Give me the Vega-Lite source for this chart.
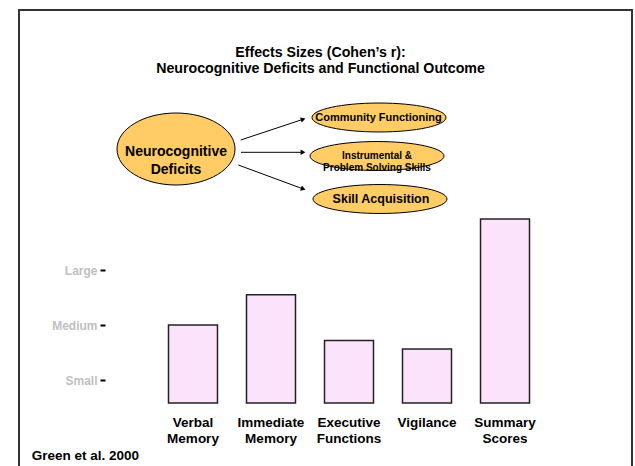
{
  "$schema": "https://vega.github.io/schema/vega-lite/v6.json",
  "width": 613,
  "height": 460,
  "autosize": "none",
  "padding": {"left": 19, "top": 10, "right": 3, "bottom": 0},
  "background": "white",
  "config": {
    "view": {"stroke": "#333333", "strokeWidth": 2},
    "font": "Liberation Sans",
    "text": {"font": "Liberation Sans"}
  },
  "title": {
    "text": ["Effects Sizes (Cohen’s r):", "Neurocognitive Deficits and Functional Outcome"],
    "font": "Liberation Sans",
    "fontSize": 14.2,
    "fontWeight": "bold",
    "color": "black",
    "lineHeight": 16,
    "anchor": "middle",
    "frame": "group",
    "offset": -66,
    "dx": -5
  },
  "layer": [
    {
      "data": {
        "values": [
          {"measure": "Verbal Memory", "r": 0.284},
          {"measure": "Immediate Memory", "r": 0.394},
          {"measure": "Executive Functions", "r": 0.227},
          {"measure": "Vigilance", "r": 0.196},
          {"measure": "Summary Scores", "r": 0.669}
        ]
      },
      "mark": {"type": "bar", "fill": "#FCE3FC", "stroke": "#222222", "strokeWidth": 1.5},
      "encoding": {
        "x": {
          "field": "measure",
          "type": "nominal",
          "sort": null,
          "scale": {"range": [149.5, 510.5], "paddingInner": 0.372, "paddingOuter": 0},
          "axis": {
            "title": null,
            "orient": "bottom",
            "offset": -67,
            "domain": false,
            "ticks": false,
            "labelAngle": 0,
            "labelFont": "Liberation Sans",
            "labelFontSize": 13.5,
            "labelFontWeight": "bold",
            "labelColor": "black",
            "labelPadding": 12,
            "labelBaseline": "top",
            "labelLineHeight": 16,
            "labelExpr": "split(datum.label, ' ')"
          }
        },
        "y": {
          "field": "r",
          "type": "quantitative",
          "scale": {"domain": [-0.2436, 1.4291], "nice": false},
          "axis": {
            "title": null,
            "values": [0.1, 0.3, 0.5],
            "labelExpr": "datum.value < 0.2 ? 'Small' : datum.value < 0.4 ? 'Medium' : 'Large'",
            "offset": -86,
            "domain": false,
            "grid": false,
            "tickSize": 5,
            "tickWidth": 2,
            "tickColor": "black",
            "tickOffset": 4.5,
            "labelColor": "#BFBFBF",
            "labelFont": "Liberation Sans",
            "labelFontSize": 12,
            "labelFontWeight": "bold",
            "labelPadding": 3
          }
        }
      }
    },
    {
      "encoding": {
        "x": {"field": "x", "type": "quantitative", "scale": {"domain": [0, 613], "nice": false, "zero": false}, "axis": null},
        "y": {"field": "y", "type": "quantitative", "scale": {"domain": [0, 460], "nice": false, "zero": false, "reverse": true}, "axis": null}
      },
      "layer": [
        {
          "data": {"values": [{"x": 221.7, "y": 130, "x2": 284.15, "y2": 109.25}, {"x": 222, "y": 142.3, "x2": 284, "y2": 142.3}, {"x": 219.3, "y": 155, "x2": 284.2, "y2": 178.96}]},
          "mark": {"type": "rule", "stroke": "black", "strokeWidth": 1},
          "encoding": {"x2": {"field": "x2"}, "y2": {"field": "y2"}}
        },
        {
          "data": {"values": [{"x": 221.7, "y": 130, "x2": 284.15, "y2": 109.25}, {"x": 222, "y": 142.3, "x2": 284, "y2": 142.3}, {"x": 219.3, "y": 155, "x2": 284.2, "y2": 178.96}]},
          "transform": [{"calculate": "atan2(datum.y2 - datum.y, datum.x2 - datum.x) * 180 / PI", "as": "ang"}],
          "mark": {"type": "point", "shape": "triangle-right", "size": 30, "filled": true, "fill": "black", "opacity": 1},
          "encoding": {
            "x": {"field": "x2", "type": "quantitative"},
            "y": {"field": "y2", "type": "quantitative"},
            "angle": {"field": "ang", "type": "quantitative", "scale": null}
          }
        },
        {
          "data": {"values": [{"x": 157, "y": 139}]},
          "mark": {"type": "point", "shape": "M-1,0A1,0.61,0,1,1,1,0A1,0.61,0,1,1,-1,0Z", "size": 13924, "filled": true, "fill": "#FFCC66", "stroke": "black", "strokeWidth": 1, "opacity": 1}
        },
        {
          "data": {"values": [{"x": 360, "y": 107.5}, {"x": 358, "y": 146}, {"x": 361, "y": 189}]},
          "mark": {"type": "point", "shape": "M-1,0A1,0.216,0,1,1,1,0A1,0.216,0,1,1,-1,0Z", "size": 17956, "filled": true, "fill": "#FFCC66", "stroke": "black", "strokeWidth": 1, "opacity": 1}
        },
        {
          "data": {"values": [{"x": 157, "y": 142, "t": "Neurocognitive\nDeficits"}]},
          "mark": {"type": "text", "fontSize": 14, "fontWeight": "bold", "lineBreak": "\n", "lineHeight": 18, "baseline": "middle", "align": "center", "color": "black"},
          "encoding": {"text": {"field": "t"}}
        },
        {
          "data": {"values": [{"x": 359.5, "y": 108, "t": "Community Functioning"}]},
          "mark": {"type": "text", "fontSize": 11, "fontWeight": "bold", "baseline": "middle", "align": "center", "color": "black"},
          "encoding": {"text": {"field": "t"}}
        },
        {
          "data": {"values": [{"x": 358, "y": 145.5, "t": "Instrumental &\nProblem Solving Skills"}]},
          "mark": {"type": "text", "fontSize": 10, "fontWeight": "bold", "lineBreak": "\n", "lineHeight": 12.5, "baseline": "middle", "align": "center", "color": "black"},
          "encoding": {"text": {"field": "t"}}
        },
        {
          "data": {"values": [{"x": 362, "y": 189, "t": "Skill Acquisition"}]},
          "mark": {"type": "text", "fontSize": 12.5, "fontWeight": "bold", "baseline": "middle", "align": "center", "color": "black"},
          "encoding": {"text": {"field": "t"}}
        },
        {
          "data": {"values": [{"x": 12.7, "y": 446, "t": "Green et al. 2000"}]},
          "mark": {"type": "text", "fontSize": 13.5, "fontWeight": "bold", "baseline": "middle", "align": "left", "color": "black"},
          "encoding": {"text": {"field": "t"}}
        }
      ]
    }
  ],
  "resolve": {"scale": {"x": "independent", "y": "independent"}}
}
